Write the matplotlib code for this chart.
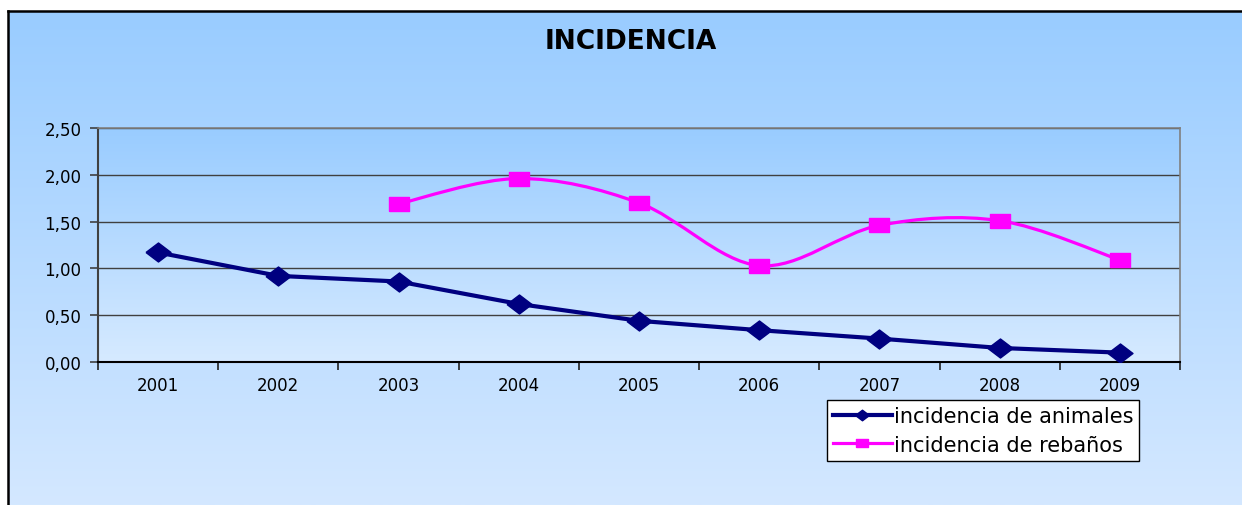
import matplotlib
matplotlib.use("Agg")
import matplotlib.pyplot as plt
import numpy as np
from matplotlib.path import Path
from matplotlib.patches import PathPatch
from matplotlib.lines import Line2D
from matplotlib.ticker import FuncFormatter, FixedLocator

years = ['2001', '2002', '2003', '2004', '2005', '2006', '2007', '2008', '2009']
animales = [1.17, 0.92, 0.86, 0.62, 0.44, 0.34, 0.25, 0.15, 0.10]
rebanos_years = ['2003', '2004', '2005', '2006', '2007', '2008', '2009']
rebanos = [1.69, 1.96, 1.70, 1.03, 1.46, 1.51, 1.09]

NAVY = '#000080'
MAGENTA = '#FF00FF'

W, H = 1242, 506
fig = plt.figure(figsize=(W / 100, H / 100), dpi=100)
fig.patch.set_facecolor('white')


def gradient(top, bottom, n=256):
    top = np.array(top) / 255.0
    bottom = np.array(bottom) / 255.0
    t = np.linspace(0, 1, n)[:, None]
    return (top * (1 - t) + bottom * t)[:, None, :]


# outer chart frame
bg = fig.add_axes([8 / W, 0, 1 - 8 / W, 1 - 12 / H], zorder=-10)
bg.imshow(gradient((153, 204, 255), (212, 232, 255)), aspect='auto',
          extent=(0, 1, 0, 1))
bg.set_xlim(0, 1)
bg.set_ylim(0, 1)
bg.set_xticks([])
bg.set_yticks([])
for side in ['right', 'bottom']:
    bg.spines[side].set_visible(False)
for side in ['left', 'top']:
    bg.spines[side].set_linewidth(1.8)
    bg.spines[side].set_color('black')

# plot area
ax = fig.add_axes([98 / W, 1 - 363 / H, (1180 - 98) / W, (363 - 129) / H])
ax.patch.set_alpha(0)
ax.imshow(gradient((153, 204, 255), (214, 234, 255)), aspect='auto',
          extent=(-0.5, len(years) - 0.5, 0, 2.5), zorder=-1)
ax.set_xlim(-0.5, len(years) - 0.5)
ax.set_ylim(0, 2.5)

ax.set_yticks(np.arange(0, 2.51, 0.5))
ax.yaxis.set_major_formatter(FuncFormatter(lambda v, p: ('%.2f' % v).replace('.', ',')))
ax.grid(axis='y', color='#404040', linewidth=1)
ax.tick_params(axis='y', length=6, width=1.2, color='#404040', labelsize=12, pad=6)

xpos = np.arange(len(years))
ax.xaxis.set_major_locator(FixedLocator(np.arange(-0.5, len(years), 1)))
ax.xaxis.set_minor_locator(FixedLocator(xpos))
ax.set_xticklabels([], minor=False)
ax.set_xticklabels(years, minor=True)
ax.tick_params(axis='x', which='major', length=6, width=1.2, color='#202020')
ax.tick_params(axis='x', which='minor', length=0, labelsize=12, pad=10)

ax.spines['left'].set_color('#404040')
ax.spines['left'].set_linewidth(1.5)
ax.spines['bottom'].set_color('black')
ax.spines['bottom'].set_linewidth(1.5)
for side in ['top', 'right']:
    ax.spines[side].set_color('#808080')
    ax.spines[side].set_linewidth(1.2)

diamond = [(-1, 0), (0, 0.76), (1, 0), (0, -0.76), (-1, 0)]
rect = [(-1, -0.74), (1, -0.74), (1, 0.74), (-1, 0.74), (-1, -0.74)]

# animals: straight line with diamonds
ax.plot(xpos, animales, color=NAVY, linewidth=3, marker=diamond,
        markersize=18, zorder=3)

# herds: smoothed line (Excel-style bezier) with squares
rx = np.array([years.index(y) for y in rebanos_years], dtype=float)
pts = np.column_stack([rx, rebanos])
verts = [pts[0]]
codes = [Path.MOVETO]
n = len(pts)
for i in range(n - 1):
    p0 = pts[i - 1] if i > 0 else pts[i]
    p1 = pts[i]
    p2 = pts[i + 1]
    p3 = pts[i + 2] if i + 2 < n else pts[i + 1]
    verts += [p1 + (p2 - p0) / 6, p2 - (p3 - p1) / 6, p2]
    codes += [Path.CURVE4] * 3
ax.add_patch(PathPatch(Path(verts, codes), fill=False, edgecolor=MAGENTA,
                       linewidth=2.3, zorder=3))
ax.plot(rx, rebanos, linestyle='none', marker=rect, markersize=13.7,
        color=MAGENTA, zorder=4)

fig.text(631 / W, 1 - 42 / H, 'INCIDENCIA', ha='center', va='center',
         fontsize=19, fontweight='bold')

handles = [
    Line2D([], [], color=NAVY, linewidth=3, marker=diamond, markersize=10),
    Line2D([], [], color=MAGENTA, linewidth=2.3, marker=rect, markersize=8),
]
leg = fig.legend(handles, ['incidencia de animales', 'incidencia de rebaños'],
                 loc='upper left', bbox_to_anchor=(827 / W, 1 - 401 / H),
                 fontsize=15, handlelength=2.8, handletextpad=0.1,
                 borderpad=0.3, labelspacing=0.4, borderaxespad=0,
                 fancybox=False, framealpha=1, edgecolor='black')
leg.get_frame().set_linewidth(1)

fig.savefig('out.png', dpi=100)
